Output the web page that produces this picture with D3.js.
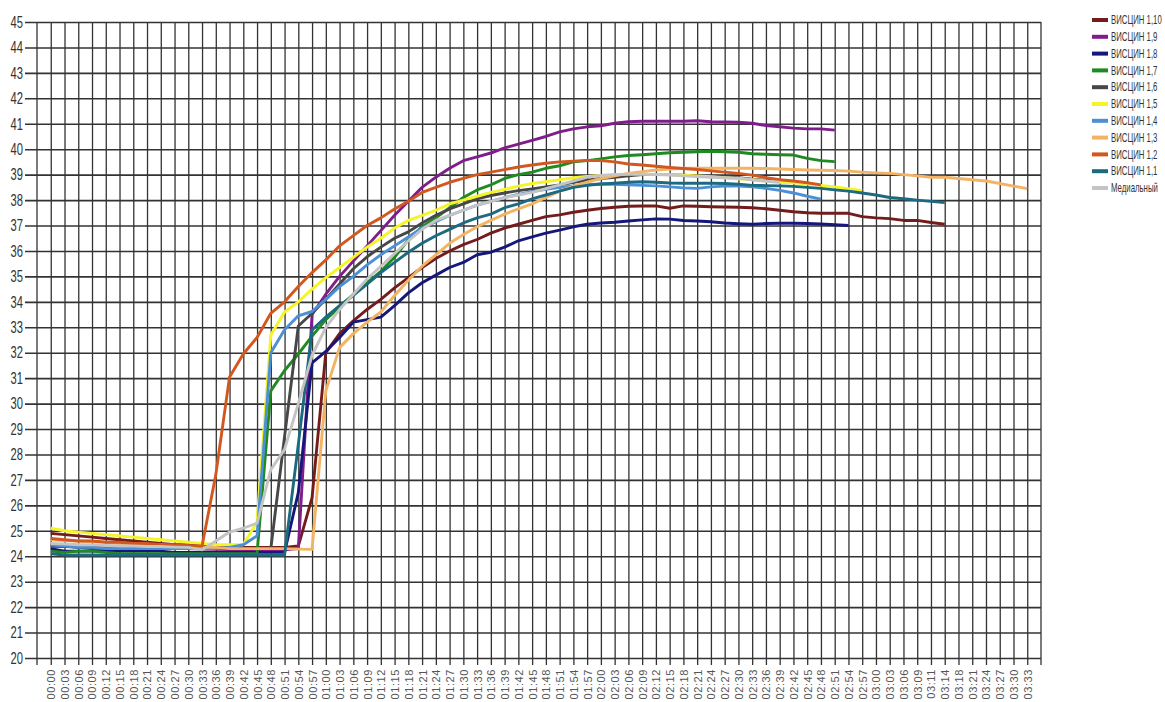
<!DOCTYPE html>
<html>
<head>
<meta charset="utf-8">
<script src="https://cdn.jsdelivr.net/npm/d3@7"></script>
<style>
  body { margin: 0; background: #fff; }
  svg text { font-family: "Liberation Sans", Arial, sans-serif; }
</style>
</head>
<body>
<div id="chart"></div>
<script>

var times = ["00:00","00:03","00:06","00:09","00:12","00:15","00:18","00:21","00:24","00:27",
    "00:30","00:33","00:36","00:39","00:42","00:45","00:48","00:51","00:54","00:57",
    "01:00","01:03","01:06","01:09","01:12","01:15","01:18","01:21","01:24","01:27",
    "01:30","01:33","01:36","01:39","01:42","01:45","01:48","01:51","01:54","01:57",
    "02:00","02:03","02:06","02:09","02:12","02:15","02:18","02:21","02:24","02:27",
    "02:30","02:33","02:36","02:39","02:42","02:45","02:48","02:51","02:54","02:57",
    "03:00","03:03","03:06","03:09","03:11","03:14","03:18","03:21","03:24","03:27",
    "03:30","03:33"];

var yTicks = [20,21,22,23,24,25,26,27,28,29,30,31,32,33,34,35,36,37,38,39,40,41,42,43,44,45];

var names = ["ВИСЦИН 1,10","ВИСЦИН 1,9","ВИСЦИН 1,8","ВИСЦИН 1,7","ВИСЦИН 1,6","ВИСЦИН 1,5",
    "ВИСЦИН 1,4","ВИСЦИН 1,3","ВИСЦИН 1,2","ВИСЦИН 1,1","Медиальный"];

var colors = ["#741c1c","#7f1d8c","#15177a","#1f8a22","#474747","#f4f427",
    "#4b8fd6","#f2b464","#d2581f","#1c6a80","#c4c4c4"];

var visc110 = [24.9,24.85,24.8,24.75,24.7,24.65,24.6,24.55,24.5,24.45,
    24.45,24.4,24.4,24.35,24.35,24.35,24.35,24.35,24.4,26.3,
    32.0,32.75,33.25,33.7,34.1,34.55,34.95,35.35,35.7,36.0,
    36.25,36.45,36.7,36.9,37.05,37.2,37.35,37.42,37.52,37.6,
    37.67,37.72,37.76,37.77,37.77,37.68,37.77,37.76,37.74,37.73,
    37.72,37.7,37.66,37.6,37.54,37.5,37.48,37.48,37.48,37.35,
    37.3,37.27,37.2,37.2,37.12,37.05];

var visc19 = [24.4,24.38,24.36,24.35,24.34,24.33,24.32,24.31,24.3,24.3,
    24.3,24.28,24.27,24.26,24.25,24.25,24.25,24.25,24.3,33.5,
    34.3,35.0,35.6,36.2,36.8,37.4,37.95,38.5,38.9,39.25,
    39.55,39.7,39.85,40.05,40.2,40.35,40.5,40.68,40.8,40.88,
    40.92,41.02,41.08,41.1,41.1,41.1,41.1,41.12,41.08,41.07,
    41.06,41.02,40.93,40.88,40.83,40.8,40.8,40.75];

var visc18 = [24.3,24.2,24.2,24.2,24.2,24.2,24.2,24.2,24.2,24.15,
    24.15,24.15,24.15,24.15,24.15,24.15,24.15,24.15,26.5,31.6,
    32.05,32.6,33.2,33.3,33.4,33.85,34.35,34.75,35.05,35.35,
    35.55,35.85,35.95,36.15,36.4,36.55,36.7,36.82,36.95,37.05,
    37.1,37.13,37.18,37.22,37.26,37.25,37.2,37.18,37.15,37.1,
    37.07,37.05,37.08,37.09,37.09,37.08,37.06,37.03,37.0];

var visc17 = [24.2,24.15,24.2,24.2,24.15,24.1,24.1,24.1,24.1,24.1,
    24.1,24.1,24.1,24.1,24.1,24.1,30.5,31.3,31.95,32.65,
    33.3,33.8,34.3,34.75,35.2,35.75,36.45,36.95,37.3,37.7,
    38.1,38.4,38.6,38.85,39.0,39.1,39.25,39.35,39.5,39.55,
    39.62,39.7,39.75,39.78,39.82,39.86,39.88,39.9,39.92,39.9,
    39.88,39.82,39.8,39.78,39.77,39.64,39.55,39.51];

var visc16 = [24.4,24.4,24.35,24.3,24.3,24.3,24.3,24.3,24.3,24.3,
    24.3,24.3,24.3,24.3,24.3,24.3,24.3,28.7,33.05,33.55,
    34.1,34.7,35.3,35.77,36.15,36.5,36.75,37.1,37.4,37.65,
    37.85,38.05,38.18,38.28,38.37,38.44,38.52,38.6,38.7,38.78,
    38.85,38.9,38.95,39.0,39.0,39.0,38.98,38.95,38.95,38.92,
    38.88,38.82,38.78,38.75,38.72];

var visc15 = [25.1,25.0,24.95,24.9,24.85,24.8,24.75,24.7,24.65,24.6,
    24.55,24.5,24.45,24.45,24.45,25.35,32.7,33.6,34.0,34.5,
    34.95,35.35,35.75,36.15,36.5,36.9,37.2,37.4,37.6,37.85,
    38.0,38.15,38.3,38.42,38.55,38.65,38.72,38.8,38.88,38.93,
    38.97,39.0,39.02,39.02,39.0,39.0,38.98,38.95,38.92,38.88,
    38.84,38.8,38.75,38.7,38.68,38.64,38.58,38.52,38.45,38.37];

var visc14 = [24.45,24.4,24.35,24.35,24.3,24.3,24.3,24.3,24.3,24.3,
    24.3,24.3,24.3,24.35,24.45,24.8,32.0,32.9,33.45,33.62,
    34.1,34.6,35.0,35.45,35.85,36.2,36.55,36.9,37.15,37.4,
    37.6,37.8,37.95,38.1,38.22,38.33,38.42,38.5,38.56,38.6,
    38.63,38.62,38.6,38.58,38.56,38.52,38.48,38.46,38.52,38.55,
    38.55,38.52,38.46,38.38,38.28,38.15,38.04];

var visc13 = [24.65,24.62,24.6,24.58,24.55,24.5,24.5,24.45,24.45,24.4,
    24.4,24.35,24.35,24.3,24.3,24.3,24.3,24.3,24.28,24.27,
    30.5,32.2,32.75,33.2,33.6,34.25,34.85,35.4,35.85,36.3,
    36.65,36.95,37.2,37.45,37.65,37.85,38.1,38.35,38.55,38.7,
    38.85,38.95,39.05,39.12,39.18,39.22,39.25,39.25,39.25,39.25,
    39.25,39.25,39.24,39.22,39.2,39.18,39.17,39.16,39.14,39.1,
    39.07,39.05,39.0,38.95,38.9,38.9,38.85,38.8,38.75,38.65,
    38.55,38.45];

var visc12 = [24.7,24.65,24.6,24.6,24.55,24.55,24.5,24.5,24.45,24.45,
    24.4,24.4,27.2,31.05,31.95,32.6,33.55,34.0,34.6,35.15,
    35.65,36.2,36.6,37.0,37.3,37.65,37.95,38.3,38.5,38.7,
    38.85,39.0,39.1,39.2,39.3,39.38,39.45,39.5,39.53,39.56,
    39.55,39.5,39.42,39.38,39.33,39.28,39.24,39.2,39.15,39.1,
    39.05,38.98,38.88,38.8,38.75,38.68,38.6];

var visc11 = [24.1,24.05,24.05,24.05,24.05,24.05,24.05,24.05,24.05,24.05,
    24.05,24.05,24.05,24.05,24.05,24.05,24.05,24.05,28.4,32.9,
    33.4,33.85,34.25,34.7,35.15,35.55,35.95,36.3,36.6,36.85,
    37.1,37.3,37.45,37.7,37.85,38.05,38.2,38.35,38.5,38.58,
    38.63,38.66,38.7,38.72,38.7,38.67,38.66,38.66,38.66,38.65,
    38.62,38.58,38.57,38.56,38.54,38.5,38.46,38.4,38.35,38.28,
    38.2,38.1,38.05,38.0,37.95,37.9];

var medial = [24.5,24.48,24.45,24.45,24.42,24.4,24.4,24.38,24.38,24.36,
    24.35,24.25,24.6,24.95,25.1,25.3,27.4,28.2,30.0,31.9,
    33.0,33.7,34.3,34.9,35.4,35.9,36.4,36.85,37.2,37.4,
    37.6,37.8,37.95,38.1,38.2,38.3,38.45,38.6,38.75,38.9,
    38.97,39.0,39.02,39.02,39.0,38.98,38.95,38.92,38.9,38.88,
    38.86,38.8,38.74,38.7];

var seriesValues = [visc110, visc19, visc18, visc17, visc16, visc15,
    visc14, visc13, visc12, visc11, medial];

var width = 1165, height = 702;
var plotLeft = 37, plotRight = 1041, plotTop = 22, plotBottom = 658;
var narrow = 0.7;

var svg = d3.select("#chart")
    .append("svg")
    .attr("width", width)
    .attr("height", height);

var x = d3.scalePoint()
    .domain(times)
    .range([plotLeft, plotRight])
    .padding(1);

var y = d3.scaleLinear()
    .domain([20, 45])
    .range([plotBottom, plotTop]);

// horizontal grid
var yAxis = svg.append("g")
    .attr("transform", "translate(" + plotRight + ",0)")
    .call(d3.axisLeft(y).tickValues(yTicks).tickSize(plotRight - 25).tickFormat(""));
yAxis.select(".domain").remove();
yAxis.selectAll("line").attr("stroke", "#333").attr("stroke-width", 1.6);

// y labels, condensed like the original
svg.selectAll(".ylabel")
    .data(yTicks)
    .enter()
    .append("text")
    .attr("class", "ylabel")
    .attr("transform", function(d) {
        return "translate(23," + y(d) + ") scale(" + narrow + ",1)";
    })
    .attr("dy", "0.36em")
    .style("text-anchor", "end")
    .style("font-size", "16px")
    .attr("fill", "#333")
    .text(function(d) { return d; });

// vertical grid + x labels
var xAxis = svg.append("g")
    .attr("transform", "translate(0," + plotTop + ")")
    .call(d3.axisBottom(x).tickSize(plotBottom - plotTop + 7).tickPadding(4));
xAxis.select(".domain").remove();
xAxis.selectAll("line").attr("stroke", "#333").attr("stroke-width", 1.3);
xAxis.selectAll("text")
    .attr("fill", "#555")
    .attr("transform", function() {
        return "translate(0," + (plotBottom - plotTop + 11) + ") rotate(-90)";
    })
    .attr("x", 0)
    .attr("y", 0)
    .attr("dy", "0.36em")
    .style("text-anchor", "end")
    .style("letter-spacing", "0.6px")
    .style("font-size", "11px");

// plot edges
svg.selectAll(".edge")
    .data([plotLeft, plotRight])
    .enter()
    .append("line")
    .attr("class", "edge")
    .attr("x1", function(d) { return d; })
    .attr("x2", function(d) { return d; })
    .attr("y1", plotTop)
    .attr("y2", plotBottom + 7)
    .attr("stroke", "#333")
    .attr("stroke-width", 1.3);

//Series lines
var line = d3.line()
    .x(function(d, i) { return x(times[i]); })
    .y(function(d) { return y(d); });

svg.selectAll(".series")
    .data(seriesValues)
    .enter()
    .append("path")
    .attr("class", "series")
    .attr("d", line)
    .attr("fill", "none")
    .attr("stroke", function(d, i) { return colors[i]; })
    .attr("stroke-width", 2.9)
    .attr("stroke-linejoin", "round");

//Legend
var legend = svg.selectAll(".legend")
    .data(names)
    .enter()
    .append("g")
    .attr("class", "legend")
    .attr("transform", function(d, i) {
        return "translate(1092," + (20 + i * 16.8) + ")";
    });

legend.append("line")
    .attr("x1", 0)
    .attr("x2", 16)
    .attr("stroke", function(d, i) { return colors[i]; })
    .attr("stroke-width", 4);

legend.append("text")
    .attr("transform", "translate(19,0) scale(0.65,1)")
    .attr("dy", "0.35em")
    .style("font-size", "12px")
    .attr("fill", "#333")
    .text(function(d) { return d; });

</script>
</body>
</html>
